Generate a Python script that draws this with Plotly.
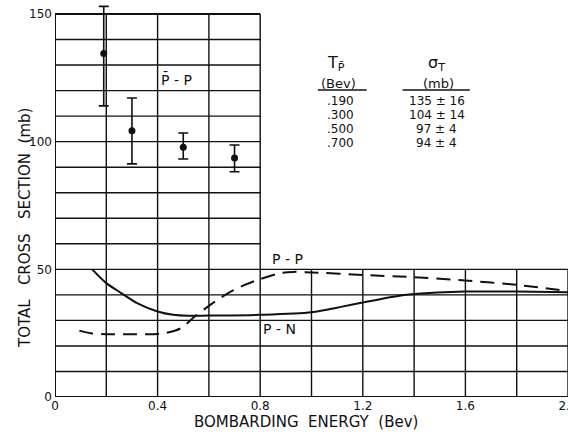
import plotly.graph_objects as go

# ---- data ----
pbar_energy = [0.19, 0.30, 0.50, 0.70]          # Bev
pbar_sigma = [134.5, 104.3, 97.8, 93.6]          # mb
pbar_err_plus = [18.5, 12.8, 5.6, 5.1]
pbar_err_minus = [20.5, 13.0, 4.6, 5.4]

pn_energy = [0.145, 0.2, 0.26, 0.32, 0.4, 0.46, 0.52, 0.6, 0.8, 1.0, 1.12, 1.2, 1.32, 1.4, 1.6, 1.8, 2.0]
pn_sigma = [50.0, 44.6, 40.6, 36.8, 33.5, 32.2, 31.8, 31.9, 32.2, 33.2, 35.4, 37.0, 39.3, 40.3, 41.3, 41.3, 41.0]

pp_energy = [0.095, 0.14, 0.2, 0.3, 0.4, 0.43, 0.49, 0.545, 0.6, 0.675, 0.74, 0.8, 0.88, 0.93, 1.0, 1.2, 1.4, 1.6, 1.8, 2.0]
pp_sigma = [26.0, 25.0, 24.6, 24.6, 24.7, 25.0, 26.9, 31.5, 35.7, 40.7, 43.9, 46.2, 48.5, 49.0, 48.8, 47.8, 46.9, 45.6, 43.9, 41.5]

table_T = [".190", ".300", ".500", ".700"]
table_sigma = ["135 ± 16", "104 ± 14", "97 ± 4", "94 ± 4"]

x_tickvals = [0, 0.4, 0.8, 1.2, 1.6, 2.0]
x_ticktext = ["0", "0.4", "0.8", "1.2", "1.6", "2.0"]
y_tickvals = [0, 50, 100, 150]

FONT = "DejaVu Sans"
INK = "#111111"
NB = "\u00a0"

fig = go.Figure()

# grid (L-shaped graph paper)
shapes = []
x_grid = [round(0.2 * i, 1) for i in range(11)]
y_grid = [10 * j for j in range(16)]
for xv in x_grid:
    ytop = 150 if xv <= 0.8 else 50
    w = 2 if xv == 0 else 1.4
    shapes.append(dict(type="line", x0=xv, x1=xv, y0=0, y1=ytop, xref="x", yref="y",
                       line=dict(color=INK, width=w), layer="below"))
for yv in y_grid:
    xright = 2.0 if yv <= 50 else 0.8
    w = 2 if yv in (0, 150) else 1.4
    shapes.append(dict(type="line", x0=0, x1=xright, y0=yv, y1=yv, xref="x", yref="y",
                       line=dict(color=INK, width=w), layer="below"))

# table rules
shapes.append(dict(type="line", x0=1.025, x1=1.215, y0=120.2, y1=120.2, xref="x", yref="y",
                   line=dict(color=INK, width=1.5)))
shapes.append(dict(type="line", x0=1.355, x1=1.617, y0=120.2, y1=120.2, xref="x", yref="y",
                   line=dict(color=INK, width=1.5)))

fig.add_trace(go.Scatter(x=pn_energy, y=pn_sigma, mode="lines",
                         line=dict(color=INK, width=2, shape="spline", smoothing=0.8),
                         showlegend=False, hoverinfo="skip"))
fig.add_trace(go.Scatter(x=pp_energy, y=pp_sigma, mode="lines",
                         line=dict(color=INK, width=2, dash="14px,8px", shape="spline", smoothing=0.8),
                         showlegend=False, hoverinfo="skip"))
fig.add_trace(go.Scatter(x=pbar_energy, y=pbar_sigma, mode="markers", cliponaxis=False,
                         marker=dict(color=INK, size=7),
                         error_y=dict(type="data", symmetric=False, array=pbar_err_plus,
                                      arrayminus=pbar_err_minus, color=INK, thickness=1.6, width=5),
                         showlegend=False))

ann = []
def txt(x, y, s, size=13, xanchor="center", xref="x", yref="y"):
    ann.append(dict(x=x, y=y, xref=xref, yref=yref, text=s, showarrow=False,
                    xanchor=xanchor, yanchor="middle",
                    font=dict(family=FONT, size=size, color=INK)))

txt(0.472, 124.3, "P\u0304 - P", size=14)
txt(0.905, 54.0, "P - P", size=14)
txt(0.875, 26.8, "P - N", size=14)

txt(1.097, 130.8, "T<sub>P\u0304</sub>", size=16)
txt(1.105, 122.9, "(Bev)", size=13)
txt(1.489, 130.8, "σ<sub>T</sub>", size=16)
txt(1.497, 122.9, "(mb)", size=13)
row_y = [116.1, 110.6, 105.1, 99.6]
for t, s, yv in zip(table_T, table_sigma, row_y):
    txt(1.051, yv, t, size=12, xanchor="left")
    txt(1.489, yv, s, size=12)

# axis titles
ann.append(dict(x=0.49, y=0, xref="paper", yref="paper", yshift=-25,
                text=f"BOMBARDING{NB}{NB}ENERGY{NB}{NB}(Bev)", showarrow=False,
                xanchor="center", yanchor="middle",
                font=dict(family=FONT, size=15, color=INK)))
ann.append(dict(x=25, y=226, xref="paper", yref="paper",
                text=f"TOTAL{NB}{NB}{NB}CROSS{NB}{NB}{NB}SECTION{NB}{NB}(mb)", showarrow=False, textangle=-90,
                xanchor="center", yanchor="middle",
                font=dict(family=FONT, size=15, color=INK)))

Y_TOP = 150 + 9 / 2.553
PLOT_TOP_PX = 14 - 9
fig.update_layout(
    width=568, height=434,
    margin=dict(l=55, r=0, t=PLOT_TOP_PX, b=37, autoexpand=False),
    paper_bgcolor="white", plot_bgcolor="white",
    shapes=shapes, showlegend=False,
    xaxis=dict(range=[0, 2.0], showgrid=False, zeroline=False, showline=False,
               tickvals=x_tickvals, ticktext=x_ticktext, ticks="", automargin=False,
               ticklabeloverflow="allow",
               tickfont=dict(family=FONT, size=12, color=INK), ticklabelstandoff=0),
    yaxis=dict(range=[0, Y_TOP], showgrid=False, zeroline=False, showline=False,
               tickvals=y_tickvals, ticks="", automargin=False,
               tickfont=dict(family=FONT, size=12, color=INK), ticklabelstandoff=2),
)
# convert y-title position from pixels to paper fraction
plot_h = 434 - PLOT_TOP_PX - 37
ann[-1]["x"] = (25 - 55) / (568 - 55)
ann[-1]["y"] = (434 - 37 - 228) / plot_h
fig.update_layout(annotations=ann)

fig.write_html("out.html", config={"displayModeBar": False},
               post_script="document.body.style.margin='0px';document.body.style.overflow='hidden';")
